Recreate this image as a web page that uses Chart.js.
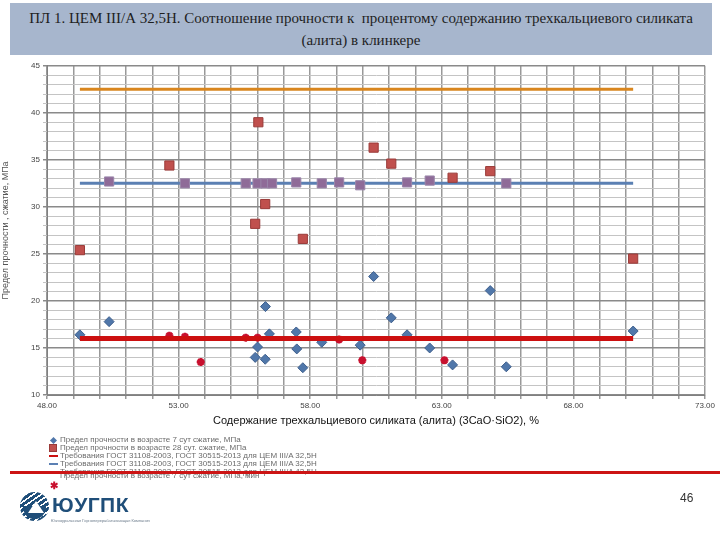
<!DOCTYPE html>
<html>
<head>
<meta charset="utf-8">
<script src="https://cdn.jsdelivr.net/npm/chart.js@4/dist/chart.umd.min.js"></script>
<style>
  body { margin: 0; width: 720px; height: 540px; background: #fff; position: relative; overflow: hidden; font-family: "Liberation Sans", Arial, sans-serif; }
  #title { position: absolute; left: 10px; top: 3px; width: 702px; height: 52px; background: #a7b6cd;
    font-family: "Liberation Serif", "Times New Roman", serif; font-size: 15px; line-height: 22px; color: #1e1e1e;
    text-align: center; padding-top: 4px; box-sizing: border-box; }
  #wrap { position: absolute; left: 0; top: 58px; width: 720px; height: 372px; }
  #legend { position: absolute; left: 0; top: 0; width: 720px; height: 540px; pointer-events: none; }
  .lrow { position: absolute; left: 49px; height: 8px; font-size: 8px; line-height: 8px; color: #6b6b6b; white-space: nowrap; }
  .lrow span.txt { position: absolute; left: 11px; top: 0; }
  .ico { position: absolute; left: 0; top: 0; }
  #decor { position: absolute; left: 10px; top: 471px; width: 710px; height: 3px; background: #cc1414; }
  #logo { position: absolute; left: 20px; top: 492px; width: 29px; height: 29px; border-radius: 50%;
    background: repeating-linear-gradient(-35deg, #1f4e79 0 3px, #ffffff 3px 4.5px); }
  #logo::after { content: ""; position: absolute; left: 8px; top: 9px; width: 0; height: 0;
    border-left: 8px solid transparent; border-right: 8px solid transparent; border-bottom: 12px solid #fff; }
  #logo::before { content: ""; position: absolute; left: 3px; top: 14px; width: 23px; height: 13px; border-radius: 0 0 12px 12px; background: #1f4e79; }
  #brand { position: absolute; left: 52px; top: 493px; font-size: 21px; font-weight: bold; color: #1f4e79; letter-spacing: 0.5px; }
  #brandsub { position: absolute; left: 51px; top: 518px; font-size: 4px; color: #6a7a8a; white-space: nowrap; }
  #page { position: absolute; left: 680px; top: 491px; font-size: 12px; color: #333; }
</style>
</head>
<body>
<div id="title">ПЛ 1. ЦЕМ III/А 32,5Н. Соотношение прочности к &nbsp;процентому содержанию трехкальциевого силиката<br>(алита) в клинкере</div>
<div id="wrap"><canvas id="c" width="720" height="372"></canvas></div>
<div id="legend"></div>
<div id="decor"></div>
<div id="logo"></div>
<div id="brand">ЮУГПК</div>
<div id="brandsub">Южноуральская Горноперерабатывающая Компания</div>
<div id="page">46</div>
<script>
// 7 days strength
var alitX7 = [49.25, 50.36, 55.91, 56.0, 56.29, 56.3, 56.45, 57.47, 57.49, 57.72, 58.44, 59.9, 60.41, 61.08, 61.68, 62.54, 63.41, 64.84, 65.45, 70.27];
var strength7 = [16.4, 17.8, 14.0, 15.1, 13.8, 19.4, 16.5, 16.7, 14.9, 12.9, 15.6, 15.3, 22.6, 18.2, 16.4, 15.0, 13.2, 21.1, 13.0, 16.8];
// 28 days strength
var alitX28 = [49.25, 50.36, 52.65, 53.24, 55.55, 55.91, 56.0, 56.03, 56.29, 56.3, 56.55, 57.47, 57.72, 58.44, 59.1, 59.9, 60.41, 61.08, 61.68, 62.54, 63.41, 64.84, 65.45, 70.27];
var strength28 = [25.4, 32.7, 34.4, 32.5, 32.5, 28.2, 32.5, 39.0, 30.3, 32.5, 32.5, 32.6, 26.6, 32.5, 32.6, 32.3, 36.3, 34.6, 32.6, 32.8, 33.1, 33.8, 32.5, 24.5];
// 7 days, min
var alitXMin = [52.65, 53.24, 53.84, 55.55, 56.0, 59.1, 59.98, 63.1];
var strengthMin = [16.3, 16.2, 13.5, 16.1, 16.1, 15.9, 13.7, 13.7];
// requirement levels, MPa
var req7 = 16, req28 = 32.5, req42 = 42.5;
var xMin = 48, xMax = 73, xLabelStep = 5;
var yMin = 10, yMax = 45, yLabelStep = 5;

var label7 = 'Предел прочности в возрасте 7 сут сжатие, МПа';
var label28 = 'Предел прочности в возрасте 28 сут. сжатие, МПа';
var labelReq = 'Требования ГОСТ 31108-2003, ГОСТ 30515-2013 для ЦЕМ III/A ';
var labelMin = 'Предел прочности в возрасте 7 сут сжатие, МПа, мин';

var pts = (xs, ys) => xs.map((x, i) => ({x: x, y: ys[i]}));
var allX = alitX7.concat(alitX28, alitXMin);
var lineFrom = Math.min.apply(null, allX), lineTo = Math.max.apply(null, allX);
var reqLine = v => [{x: lineFrom, y: v}, {x: lineTo, y: v}];
var onStep = (v, from, step) => Math.abs((v - from) % step) < 1e-6;

var chart = new Chart(document.getElementById('c'), {
  type: 'scatter',
  data: {datasets: [
    {label: label7, data: pts(alitX7, strength7), pointStyle: 'rectRot', pointRadius: 5,
      backgroundColor: '#5077aa', borderColor: '#3e5f8c', borderWidth: 1, order: 2},
    {label: label28, data: pts(alitX28, strength28), pointStyle: 'rect', pointRadius: 6.5,
      backgroundColor: ctx => Math.abs(ctx.raw.y - req28) < 0.4 ? '#8f6b98' : '#c0504d',
      borderColor: ctx => Math.abs(ctx.raw.y - req28) < 0.4 ? '#9a86aa' : '#9a3b39', borderWidth: 1, order: 1},
    {label: labelReq + '32,5H', type: 'line', data: reqLine(req7), showLine: true, borderColor: '#cc1010',
      backgroundColor: '#cc1010', borderWidth: 5, pointRadius: 0, order: 0},
    {label: labelReq + '32,5H', type: 'line', data: reqLine(req28), showLine: true, borderColor: '#5b80b3',
      backgroundColor: '#5b80b3', borderWidth: 3, pointRadius: 0, order: 3},
    {label: labelReq + '42,5H', type: 'line', data: reqLine(req42), showLine: true, borderColor: '#d9861e',
      backgroundColor: '#d9861e', borderWidth: 3, pointRadius: 0, order: 3},
    {label: labelMin, data: pts(alitXMin, strengthMin), pointStyle: 'star', pointRadius: 4,
      backgroundColor: '#c8102e', borderColor: '#c8102e', borderWidth: 2.5, order: 1}
  ]},
  options: {
    responsive: false, animation: false,
    layout: {padding: {top: 6, right: 15, left: 0, bottom: 0}},
    plugins: {legend: {display: false}, tooltip: {enabled: false}},
    scales: {
      x: {
        type: 'linear', min: xMin, max: xMax,
        afterFit: s => { s.height = 35; },
        ticks: {stepSize: 1, autoSkip: false, maxRotation: 0, padding: 2, color: '#444',
          font: {family: 'Liberation Sans', size: 8},
          callback: v => onStep(v, xMin, xLabelStep) ? v.toFixed(2) : ''},
        grid: {color: '#999', lineWidth: 1.5, tickLength: 4},
        border: {color: '#808080'},
        title: {display: true, text: 'Содержание трехкальциевого силиката (алита) (3CaO·SiO2), %',
          color: '#111', font: {family: 'Liberation Sans', size: 11}, padding: {top: 0, bottom: 2}}
      },
      y: {
        min: yMin, max: yMax,
        afterFit: s => { s.width = 47; },
        ticks: {stepSize: 1, autoSkip: false, padding: 3, color: '#444',
          font: {family: 'Liberation Sans', size: 8},
          callback: v => onStep(v, yMin, yLabelStep) ? String(v) : ''},
        grid: {color: c => onStep(c.tick.value, yMin, yLabelStep) ? '#8a8a8a' : '#c4c4c4',
          lineWidth: c => onStep(c.tick.value, yMin, yLabelStep) ? 1.5 : 1, tickLength: 4},
        border: {color: '#808080'},
        title: {display: true, text: 'Предел прочности , сжатие, МПа', color: '#555',
          font: {family: 'Liberation Sans', size: 9}, padding: {top: 0, bottom: 8}}
      }
    }
  }
});

// html legend, built from the datasets
var legendTops = [436, 444, 452, 459.5, 468, 472];
var legendEl = document.getElementById('legend');
chart.data.datasets.forEach((ds, i) => {
  var row = document.createElement('div');
  row.className = 'lrow';
  row.style.top = legendTops[i] + 'px';
  var ico = document.createElement('span');
  ico.className = 'ico';
  var col = typeof ds.backgroundColor === 'string' ? ds.backgroundColor : '#c0504d';
  if (ds.showLine) {
    ico.style.cssText = 'left:0;top:3px;width:9px;height:2px;background:' + ds.borderColor;
  } else if (ds.pointStyle === 'rectRot') {
    ico.style.cssText = 'left:2px;top:1.5px;width:5px;height:5px;transform:rotate(45deg);background:' + col;
  } else if (ds.pointStyle === 'rect') {
    ico.style.cssText = 'left:0;top:0;width:8px;height:8px;background:' + col + ';border:1px solid #9a3b39;box-sizing:border-box';
  } else {
    ico.style.cssText = 'left:1px;top:10px;font-size:10px;font-weight:bold;color:' + col;
    ico.textContent = '✱';
  }
  var txt = document.createElement('span');
  txt.className = 'txt';
  txt.textContent = ds.label;
  row.appendChild(ico);
  row.appendChild(txt);
  legendEl.appendChild(row);
});
</script>
</body>
</html>
